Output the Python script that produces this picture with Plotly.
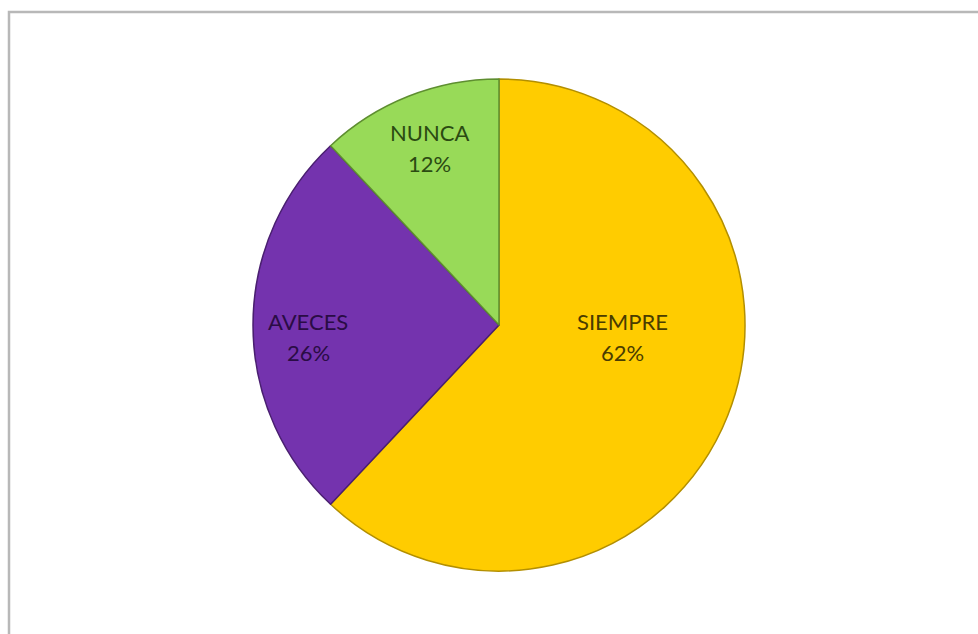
import plotly.graph_objects as go

labels = ["SIEMPRE", "AVECES", "NUNCA"]
values = [62, 26, 12]
slice_colors = ["#FFCC00", "#7433AE", "#98DA58"]
edge_colors = ["#B38F00", "#4A1F70", "#5E8E30"]
text_colors = ["#4A3C00", "#2A0C45", "#2B4A12"]
# label anchor positions (pixels from top-left), styling only
label_px = [(622, 337), (308, 337), (429, 148)]

W, H = 978, 634
cx, cy, r = 499, 325, 246

total = sum(values)
pct_text = [f"{round(100 * v / total)}%" for v in values]

fig = go.Figure(go.Pie(
    labels=labels,
    values=values,
    sort=False,
    direction="clockwise",
    rotation=0,
    marker=dict(colors=slice_colors, line=dict(color=edge_colors, width=1.5)),
    textinfo="none",
    hoverinfo="label+percent",
    domain=dict(x=[(cx - r) / W, (cx + r) / W], y=[(H - cy - r) / H, (H - cy + r) / H]),
    showlegend=False,
))

annotations = []
for lab, pct, col, (px, py) in zip(labels, pct_text, text_colors, label_px):
    for txt, dy in ((lab, -15.5), (pct, 15.5)):
        annotations.append(dict(
            x=px / W, y=(H - py - dy) / H, xref="paper", yref="paper",
            text=txt, showarrow=False, xanchor="center", yanchor="middle",
            font=dict(family="Lato, Open Sans, sans-serif", size=22, color=col),
        ))

fig.update_layout(
    width=W, height=H,
    margin=dict(l=0, r=0, t=0, b=0),
    paper_bgcolor="white",
    plot_bgcolor="white",
    annotations=annotations,
    shapes=[dict(type="rect", xref="paper", yref="paper",
                 x0=9 / W, x1=1.01, y0=-0.01, y1=(H - 12) / H,
                 line=dict(color="#B8B8B8", width=2.5), fillcolor="rgba(0,0,0,0)", layer="below")],
)

fig.write_html("out.html")
